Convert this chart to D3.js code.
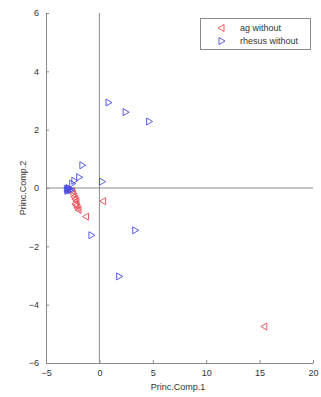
<!DOCTYPE html>
<html>
<head>
<meta charset="utf-8">
<script src="https://cdn.jsdelivr.net/npm/d3@7"></script>
<style>
  body { margin: 0; background: #fff; }
  text { font-family: "Liberation Sans", Arial, sans-serif; }
</style>
</head>
<body>
<svg width="321" height="397"></svg>
<script>
// ag without (left triangles)
var agX = [15.4, 0.3, -1.3, -2.0, -2.1, -2.3, -2.2, -2.3, -2.4, -2.5, -2.6, -2.2];
var agY = [-4.75, -0.45, -0.98, -0.75, -0.68, -0.55, -0.45, -0.38, -0.3, -0.2, -0.1, -0.6];
// rhesus without (right triangles)
var rhX = [0.9, 2.5, 4.7, -1.55, -1.85, -2.3, -2.5, 0.3, -2.8, -2.9, -3.0, -2.7, -2.6, -2.85, -2.95, -0.7, 3.4, 1.9];
var rhY = [2.93, 2.6, 2.28, 0.78, 0.37, 0.25, 0.15, 0.22, -0.02, -0.05, -0.03, -0.08, -0.05, 0.0, -0.1, -1.62, -1.45, -3.03];
var xTicks = [-5, 0, 5, 10, 15, 20];
var yTicks = [-6, -4, -2, 0, 2, 4, 6];
var seriesNames = ["ag without", "rhesus without"];

var svg = d3.select('svg');
var x = d3.scaleLinear().domain([-5, 20]).range([46, 313]);
var y = d3.scaleLinear().domain([-6, 6]).range([363, 13]);
var axisColor = "#8a8a8a";

// axes (ticks inward, matlab style)
var xAxis = d3.axisBottom(x).tickValues(xTicks).tickSizeInner(-3).tickSizeOuter(0).tickPadding(7);
var yAxis = d3.axisLeft(y).tickValues(yTicks).tickSizeInner(-3).tickSizeOuter(0).tickPadding(7);

var gx = svg.append("g").attr("transform", "translate(0," + y(-6) + ")").call(xAxis);
var gy = svg.append("g").attr("transform", "translate(" + x(-5) + ",0)").call(yAxis);
[gx, gy].forEach(function (g) {
    g.selectAll("path, line").attr("stroke", axisColor);
    g.selectAll("text").attr("fill", "#333").attr("font-size", "9px");
});

// zero lines
svg.append("line")
    .attr("x1", x(-5)).attr("x2", x(20))
    .attr("y1", y(0)).attr("y2", y(0))
    .attr("stroke", axisColor);
svg.append("line")
    .attr("x1", x(0)).attr("x2", x(0))
    .attr("y1", y(6)).attr("y2", y(-6))
    .attr("stroke", axisColor);

// axis labels
svg.append("text")
    .attr("x", 178).attr("y", 390)
    .attr("text-anchor", "middle")
    .attr("font-size", "9px").attr("fill", "#333")
    .text("Princ.Comp.1");
svg.append("text")
    .attr("transform", "translate(26," + y(0) + ") rotate(-90)")
    .attr("text-anchor", "middle")
    .attr("font-size", "9px").attr("fill", "#333")
    .text("Princ.Comp.2");

function triLeft(cx, cy) {
    return "M" + (cx - 3) + "," + cy + "L" + (cx + 3) + "," + (cy - 3.5) + "L" + (cx + 3) + "," + (cy + 3.5) + "Z";
}
function triRight(cx, cy) {
    return "M" + (cx + 3) + "," + cy + "L" + (cx - 3) + "," + (cy - 3.5) + "L" + (cx - 3) + "," + (cy + 3.5) + "Z";
}

var red = "#e8484f";
var blue = "#4a4ae0";

svg.append("g").selectAll("path")
    .data(agX.map(function (v, i) { return [v, agY[i]]; }))
    .enter().append("path")
    .attr("d", function (d) { return triLeft(x(d[0]), y(d[1])); })
    .attr("fill", "none").attr("stroke", red).attr("stroke-width", 0.9);

svg.append("g").selectAll("path")
    .data(rhX.map(function (v, i) { return [v, rhY[i]]; }))
    .enter().append("path")
    .attr("d", function (d) { return triRight(x(d[0]), y(d[1])); })
    .attr("fill", "none").attr("stroke", blue).attr("stroke-width", 0.9);

// legend
var leg = svg.append("g");
leg.append("rect")
    .attr("x", 200.5).attr("y", 18.5).attr("width", 110).attr("height", 31)
    .attr("fill", "#fff").attr("stroke", axisColor);
leg.append("path").attr("d", triLeft(221, 28)).attr("fill", "none").attr("stroke", red).attr("stroke-width", 0.9);
leg.append("path").attr("d", triRight(222, 41)).attr("fill", "none").attr("stroke", blue).attr("stroke-width", 0.9);
leg.selectAll("text.lab")
    .data(seriesNames)
    .enter().append("text")
    .attr("class", "lab")
    .attr("x", 240)
    .attr("y", function (d, i) { return 31 + i * 13; })
    .attr("font-size", "9px").attr("fill", "#333")
    .text(function (d) { return d; });
</script>
</body>
</html>
